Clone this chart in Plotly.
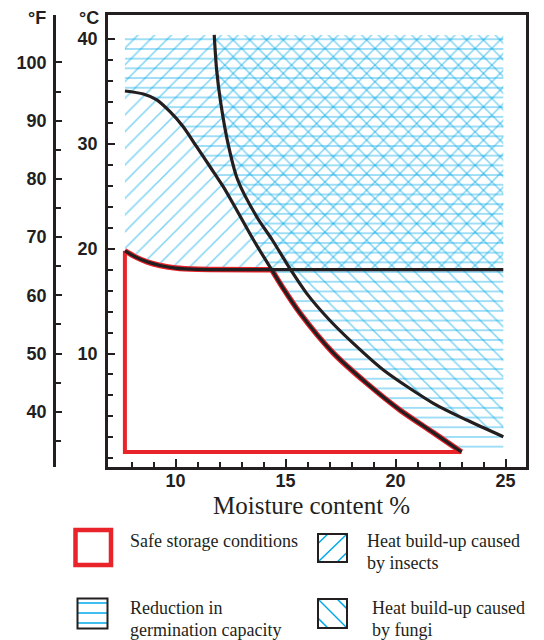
import plotly.graph_objects as go

# ---------------- data ----------------
# boundary of "heat build-up caused by insects" (above this curve)
insect_x = [7.7, 8.2, 8.7, 9.3, 10.0, 11.0, 14.37, 24.9]
insect_y = [19.8, 19.2, 18.75, 18.4, 18.15, 18.03, 18.0, 18.0]

# boundary of "reduction in germination capacity" (right of this curve)
germ_x = [7.7, 8.54, 9.15, 9.75, 10.35, 10.96, 11.57, 12.17, 12.78, 13.54, 14.37,
          14.9, 15.66, 17.17, 18.69, 20.2, 21.72, 23.0]
germ_y = [35.05, 34.76, 34.2, 33.07, 31.64, 29.73, 27.82, 25.92, 23.69, 20.85, 18.0,
          16.2, 13.85, 10.05, 7.16, 4.61, 2.45, 0.6]

# boundary of "heat build-up caused by fungi" (right of this curve)
fungi_x = [11.76, 11.87, 12.05, 12.39, 12.82, 13.69, 14.4, 15.24, 15.96, 17.0, 18.08,
           19.45, 21.72, 23.24, 24.9]
fungi_y = [40.4, 37.05, 34.0, 30.0, 26.6, 23.05, 20.83, 17.97, 15.74, 13.2, 10.97,
           8.43, 5.25, 3.65, 2.06]

moist_min, moist_max = 7.7, 24.9      # extent of the hatched chart area
temp_min, temp_max = 0.6, 40.4

x_ticks = [10, 15, 20, 25]
x_minor = [8, 9, 11, 12, 13, 14, 16, 17, 18, 19, 21, 22, 23, 24]
c_ticks = [10, 20, 30, 40]
c_minor = list(range(0, 40, 2))
f_ticks = [40, 50, 60, 70, 80, 90, 100]
f_minor = [35, 45, 55, 65, 75, 85, 95]

legend_labels = {
    "safe": ["Safe storage conditions"],
    "insects": ["Heat build-up caused", "by insects"],
    "germ": ["Reduction in", "germination capacity"],
    "fungi": ["Heat build-up caused", "by fungi"],
}

# ---------------- styling ----------------
BLACK = "#231f20"
RED = "#e8232a"
CYAN = "#00a8e8"
SANS = "Liberation Sans"
SERIF = "Liberation Serif"

W, H = 544, 640
ML, MR, MT, MB = 54, 18, 15, 173
PW, PH = W - ML - MR, H - MT - MB
X_AXIS_PX = 108
C_RANGE = [-0.83, 42.3]
F_RANGE = [c * 1.8 + 32 for c in C_RANGE]
JUNCTION = 10  # index where the germination curve meets the insect plateau


def xp(px):
    return (px - ML) / PW


def yp(py):
    return (H - MB - py) / PH


fig = go.Figure()

DIAG = dict(fgcolor=CYAN, bgcolor="rgba(0,0,0,0)", size=11.8, solidity=0.13)
# hatched regions
fig.add_trace(go.Scatter(
    x=insect_x + [moist_max, moist_min], y=insect_y + [temp_max, temp_max],
    fill="toself", mode="none", fillcolor="rgba(0,0,0,0)",
    fillpattern=dict(shape="/", **DIAG), hoverinfo="skip"))
fig.add_trace(go.Scatter(
    x=germ_x + [moist_max, moist_max, moist_min], y=germ_y + [temp_min, temp_max, temp_max],
    fill="toself", mode="none", fillcolor="rgba(0,0,0,0)",
    fillpattern=dict(shape="-", fgcolor=CYAN, bgcolor="rgba(0,0,0,0)", size=9.7, solidity=0.15),
    hoverinfo="skip"))
fig.add_trace(go.Scatter(
    x=fungi_x + [moist_max], y=fungi_y + [temp_max],
    fill="toself", mode="none", fillcolor="rgba(0,0,0,0)",
    fillpattern=dict(shape="\\", **DIAG), hoverinfo="skip"))

# safe storage region outline (red)
fig.add_trace(go.Scatter(
    x=[insect_x[0], moist_min, germ_x[-1]], y=[insect_y[0], temp_min, germ_y[-1]],
    mode="lines", line=dict(color=RED, width=4), hoverinfo="skip"))
fig.add_trace(go.Scatter(
    x=insect_x[:7], y=insect_y[:7], mode="lines",
    line=dict(color=RED, width=5.5, shape="spline", smoothing=0.6), hoverinfo="skip"))
fig.add_trace(go.Scatter(
    x=germ_x[JUNCTION:], y=germ_y[JUNCTION:], mode="lines",
    line=dict(color=RED, width=5.5, shape="spline", smoothing=0.8), hoverinfo="skip"))

# black boundary curves
curves = [
    (insect_x, insect_y, 0.6),
    (germ_x[:JUNCTION + 1], germ_y[:JUNCTION + 1], 0.8),
    (germ_x[JUNCTION:], germ_y[JUNCTION:], 0.8),
    (fungi_x, fungi_y, 0.8),
]
for xs, ys, sm in curves:
    fig.add_trace(go.Scatter(
        x=xs, y=ys, mode="lines",
        line=dict(color=BLACK, width=3.2, shape="spline", smoothing=sm), hoverinfo="skip"))

# binds the Fahrenheit axis so it gets drawn (no visible marks)
fig.add_trace(go.Scatter(x=[None], y=[None], yaxis="y2", mode="lines", hoverinfo="skip"))

tickfont = dict(family=SANS, size=18, color=BLACK, weight="bold")

fig.update_layout(
    width=W, height=H,
    margin=dict(l=ML, r=MR, t=MT, b=MB),
    paper_bgcolor="white", plot_bgcolor="white",
    showlegend=False,
    xaxis=dict(
        domain=[(X_AXIS_PX - ML) / PW, 1], range=[6.932, 25.932],
        tickmode="array", tickvals=x_ticks, ticks="inside", ticklen=8, tickwidth=2,
        tickcolor=BLACK, showline=True, linewidth=2.5, linecolor=BLACK, mirror=True,
        showgrid=False, zeroline=False, tickfont=tickfont, ticklabelstandoff=-4,
        minor=dict(tickmode="array", tickvals=x_minor, ticks="inside", ticklen=5,
                   tickwidth=2, tickcolor=BLACK, showgrid=False),
    ),
    yaxis=dict(
        range=C_RANGE, tickmode="array", tickvals=c_ticks, ticks="inside", ticklen=7,
        tickwidth=2, tickcolor=BLACK, showline=True, linewidth=2.5, linecolor=BLACK,
        mirror=True, showgrid=False, zeroline=False, tickfont=tickfont,
        ticklabelstandoff=4,
        minor=dict(tickmode="array", tickvals=c_minor, ticks="inside", ticklen=5,
                   tickwidth=2, tickcolor=BLACK, showgrid=False),
    ),
    yaxis2=dict(
        overlaying="y", anchor="free", position=0, side="left", range=F_RANGE,
        tickmode="array", tickvals=f_ticks, ticks="inside", ticklen=6, tickwidth=2,
        tickcolor=BLACK, showline=True, linewidth=2.5, linecolor=BLACK,
        showgrid=False, zeroline=False, tickfont=tickfont, ticklabelstandoff=3,
        minor=dict(tickmode="array", tickvals=f_minor, ticks="inside", ticklen=5,
                   tickwidth=2, tickcolor=BLACK, showgrid=False),
    ),
)

ann = []


def label(x_px, y_px, text, font, xanchor="center"):
    ann.append(dict(x=xp(x_px), y=yp(y_px), text=text, showarrow=False,
                    xanchor=xanchor, yanchor="middle", xref="paper", yref="paper",
                    font=font))


bold = dict(family=SANS, size=18, color=BLACK, weight="bold")
serif = dict(family=SERIF, size=18, color=BLACK)
label(37, 18, "°F", bold)
label(89, 18, "°C", bold)
label(311, 505, "Moisture content %", dict(family=SERIF, size=25, color=BLACK))


def text_lines(x_px, y_px_list, lines):
    for yy, t in zip(y_px_list, lines):
        label(x_px, yy, t, serif, xanchor="left")


text_lines(128, [541], legend_labels["safe"])
text_lines(365, [541, 563], legend_labels["insects"])
text_lines(128, [608, 630], legend_labels["germ"])
text_lines(370, [608, 630], legend_labels["fungi"])
fig.update_layout(annotations=ann)

shapes = []


def rect(x0, y0, x1, y1, color, width):
    shapes.append(dict(type="rect", xref="paper", yref="paper", x0=xp(x0), x1=xp(x1),
                       y0=yp(y1), y1=yp(y0), line=dict(color=color, width=width),
                       fillcolor="rgba(0,0,0,0)"))


def seg(x0, y0, x1, y1):
    shapes.append(dict(type="line", xref="paper", yref="paper", x0=xp(x0), x1=xp(x1),
                       y0=yp(y0), y1=yp(y1), line=dict(color=CYAN, width=1.5)))


# safe storage box
rect(75.5, 530, 111, 565, RED, 4.5)
# insects box "/"
bx0, by0, bx1, by1 = 318, 534, 347, 562
bw, bh = bx1 - bx0, by1 - by0
o = 0.66
seg(bx0, by1, bx1, by0)
seg(bx0, by1 - o * bh, bx0 + (1 - o) * bw, by0)
seg(bx0 + o * bw, by1, bx1, by1 - (1 - o) * bh)
rect(bx0, by0, bx1, by1, BLACK, 2)
# germination box "-"
gx0, gy0, gx1, gy1 = 77.5, 598.5, 107.5, 628.5
for yy in [603, 613, 623]:
    seg(gx0, yy, gx1, yy)
rect(gx0, gy0, gx1, gy1, BLACK, 2)
# fungi box "\"
fx0, fy0, fx1, fy1 = 318, 599, 347, 628
fw, fh = fx1 - fx0, fy1 - fy0
seg(fx0, fy0, fx1, fy1)
seg(fx0 + o * fw, fy0, fx1, fy0 + (1 - o) * fh)
seg(fx0, fy0 + o * fh, fx0 + (1 - o) * fw, fy1)
rect(fx0, fy0, fx1, fy1, BLACK, 2)

fig.update_layout(shapes=shapes)

fig.write_html("out.html", config={"displayModeBar": False},
               post_script="document.body.style.margin='0';")
